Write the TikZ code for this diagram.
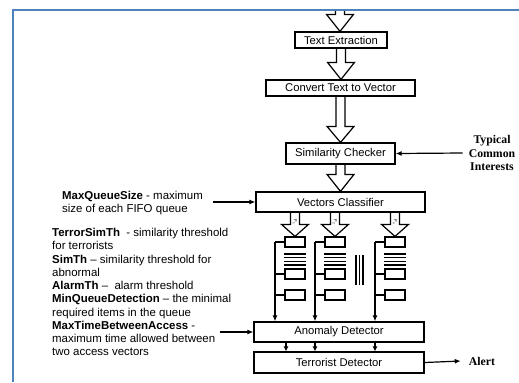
\documentclass[tikz,border=0pt]{standalone}
\usepackage{fontspec}
\setmainfont{Liberation Sans}
\newfontfamily\timesfont{Liberation Serif}
\usetikzlibrary{arrows.meta,calc}
\definecolor{frameblue}{RGB}{79,129,189}

% hollow block arrow: start, end, head length
\newcommand{\fatarrow}[3]{%
 \draw[line width=1.2bp] let \p1=(#1), \p2=(#2) in
  (\x1-4.5bp,\y1) -- (\x1-4.5bp,\y2+#3) -- (\x1-13.5bp,\y2+#3) -- (\x1,\y2)
  -- (\x1+13.5bp,\y2+#3) -- (\x1+4.5bp,\y2+#3) -- (\x1+4.5bp,\y1);}

\begin{document}
\begin{tikzpicture}[x=1bp,y=-1bp,
  box/.style={draw,line width=1.2bp,inner sep=0pt,font=\fontsize{11.3}{13}\selectfont},
  qbox/.style={draw,line width=1.2bp,minimum width=20bp,minimum height=10bp,inner sep=0pt},
  arr/.style={line width=1.2bp,-{Latex[length=6bp,width=5bp]}},
  note/.style={inner sep=0pt,align=left,anchor=north west,font=\fontsize{11.5}{13.3}\selectfont},
  side/.style={align=center,inner sep=0pt,font=\timesfont\bfseries\fontsize{11.8}{13.5}\selectfont}]
	\useasboundingbox (0,0) rectangle (519,382);

	%main chain
	\node[box,minimum width=92bp,minimum height=16bp] (te) at (341,40) {Text Extraction};
	\node[box,minimum width=149bp,minimum height=16bp] (cv) at (340.5,88) {Convert Text to Vector};
	\node[box,minimum width=109bp,minimum height=21bp] (sc) at (340.5,153.5) {Similarity Checker};
	\node[box,minimum width=169bp,minimum height=20bp] (vc) at (340.5,202) {Vectors Classifier};
	\node[box,minimum width=170bp,minimum height=20bp] (an) at (339,332) {Anomaly Detector};
	\node[box,minimum width=170bp,minimum height=21bp] (td) at (339,362.5) {Terrorist Detector};

	%block arrows
	\coordinate (feed) at (340,10);
	\fatarrow{feed}{te.north}{17bp}
	\fatarrow{te.south}{cv.north}{17bp}
	\fatarrow{cv.south}{sc.north}{16bp}
	\fatarrow{sc.south}{vc.north}{17bp}

	%queues
	\foreach \k/\xv/\lab in {1/275/1,2/315/2,3/375/n}{
	  \node[qbox] (qa\k) at (\xv+20,242) {};
	  \node[qbox] (qb\k) at (\xv+20,274) {};
	  \node[qbox] (qc\k) at (\xv+20,295) {};
	  \coordinate (qv\k) at (\xv,242);
	  \draw[line width=1.2bp] (qv\k) -- (qa\k.west);
	  \draw[line width=1.2bp] (qv\k |- qb\k) -- (qb\k.west);
	  \draw[line width=1.2bp] (qv\k |- qc\k) -- (qc\k.west);
	  \draw[arr] (qv\k) -- (qv\k |- an.north); %into detector
	  \foreach \yy in {254,257.7,261.3,265}
	    \draw[line width=1.2bp] (qa\k.west |- 0,\yy) -- (qa\k.east |- 0,\yy); %queued items
	  \fatarrow{vc.south -| qa\k.north}{qa\k.north}{12bp}
	  \node[rotate=-90,inner sep=0pt,font=\fontsize{4.5}{5}\selectfont] (fl\k) at (\xv+20,222) {F\textsubscript{\lab}};
	}
	\foreach \xx in {356,359.5,363} \draw[line width=1.2bp] (\xx,255) -- (\xx,285); %more queues

	%detector to detector
	\foreach \xx in {286,315,375} \draw[line width=1.2bp,-{Latex[length=5bp,width=5bp]}] (an.south -| \xx,0) -- (td.north -| \xx,0);

	%parameters
	\node[note] (qs) at (62,191) {\textbf{MaxQueueSize} - maximum\\size of each FIFO queue};
	\coordinate (qsend) at (213,202);
	\draw[arr] (qsend) -- (vc.west);
	\node[note] (th) at (52,228) {\textbf{TerrorSimTh}\ \ - similarity threshold\\
	  for terrorists\\
	  \textbf{SimTh} -- similarity threshold for\\
	  abnormal\\
	  \textbf{AlarmTh} --\ \ alarm threshold\\
	  \textbf{MinQueueDetection} -- the minimal\\
	  required items in the queue\\
	  \textbf{MaxTimeBetweenAccess} -\\
	  maximum time allowed between\\
	  two access vectors};
	\coordinate (thend) at (220,332);
	\draw[arr] (thend) -- (an.west);

	%outside input and output
	\node[side] (ti) at (492,153) {Typical\\Common\\Interests};
	\draw[arr] ([xshift=-6bp]ti.west) -- (sc.east);
	\node[side] (al) at (482,361) {Alert};
	\draw[arr] (td.east) -- ([xshift=-8bp]al.west);

	%frame
	\draw[frameblue,line width=2.6bp] (13,382) -- (13,10) -- (519,10);
\end{tikzpicture}
\end{document}
